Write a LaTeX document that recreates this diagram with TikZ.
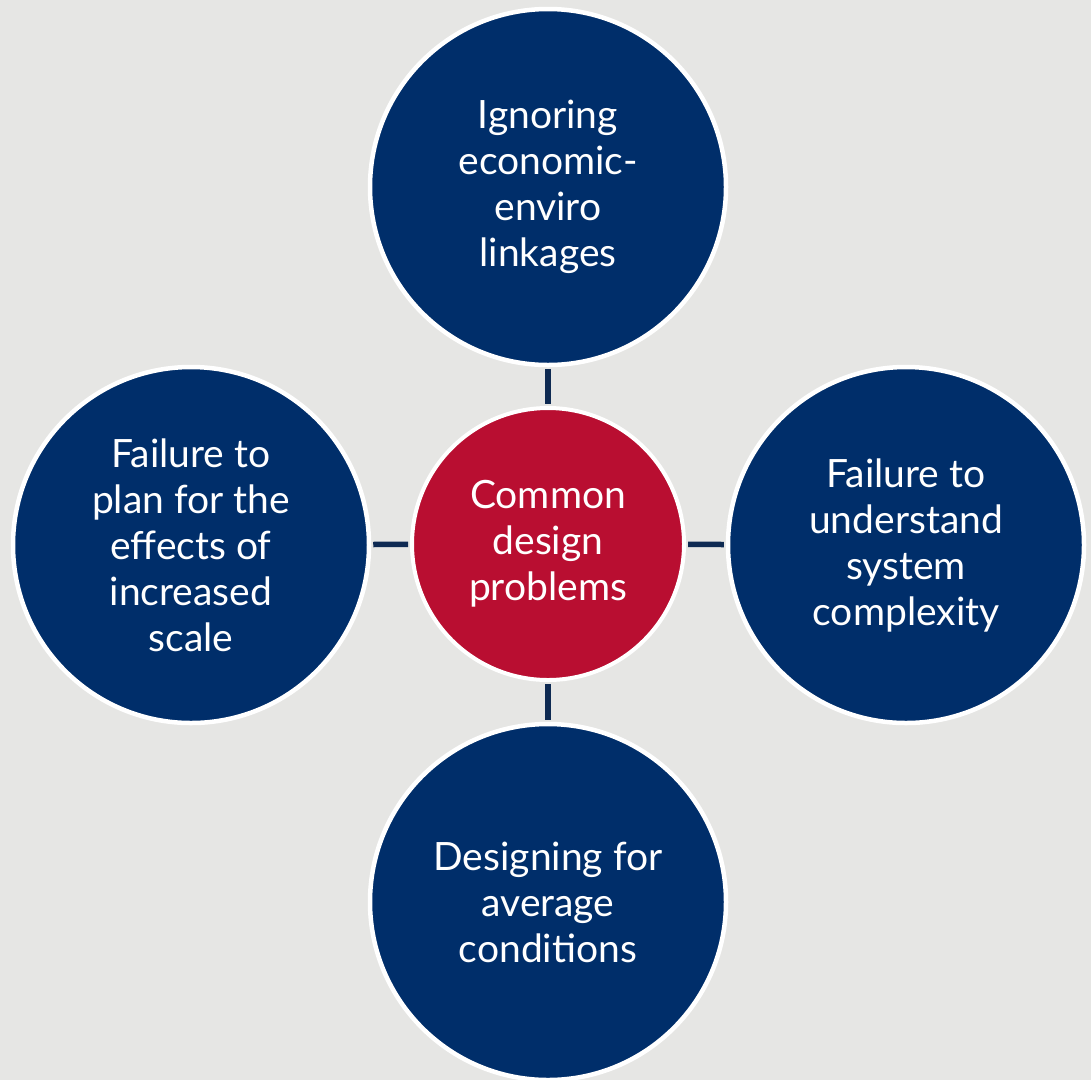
\documentclass[tikz,border=0pt]{standalone}
\usepackage{fontspec}
\setmainfont{Lato}
\definecolor{bg}{HTML}{E6E6E4}
\definecolor{navy}{HTML}{002E6A}
\definecolor{crimson}{HTML}{B90E31}
\definecolor{linkc}{HTML}{0E2A52}
\tikzset{
  outer/.style={circle, fill=navy, draw=white, line width=4.5pt, minimum size=356pt,
    inner sep=0pt, text=white, align=center,
    font=\fontsize{39pt}{46pt}\selectfont},
  hub/.style={circle, fill=crimson, draw=white, line width=4pt, minimum size=272pt,
    inner sep=0pt, text=white, align=center,
    font=\fontsize{39pt}{46pt}\selectfont},
  link/.style={draw=linkc, line width=5.5pt, shorten <=2pt, shorten >=2pt}
}
\begin{document}
\begin{tikzpicture}[x=1pt,y=-1pt]
\fill[bg] (0,0) rectangle (1091,1080);
\useasboundingbox (0,0) rectangle (1091,1080);
\node[hub] (c) at (548,544) {Common\\design\\problems};
\node[outer] (t) at (548,187) {Ignoring\\economic-\\enviro\\linkages};
\node[outer] (l) at (191,545) {Failure to\\plan for the\\effects of\\increased\\scale};
\node[outer] (r) at (906,545) {Failure to\\understand\\system\\complexity};
\node[outer] (b) at (548,902) {Designing for\\average\\conditions};
\draw[link] (t) -- (c);
\draw[link] (l) -- (c);
\draw[link] (c) -- (r);
\draw[link] (c) -- (b);
\end{tikzpicture}
\end{document}
